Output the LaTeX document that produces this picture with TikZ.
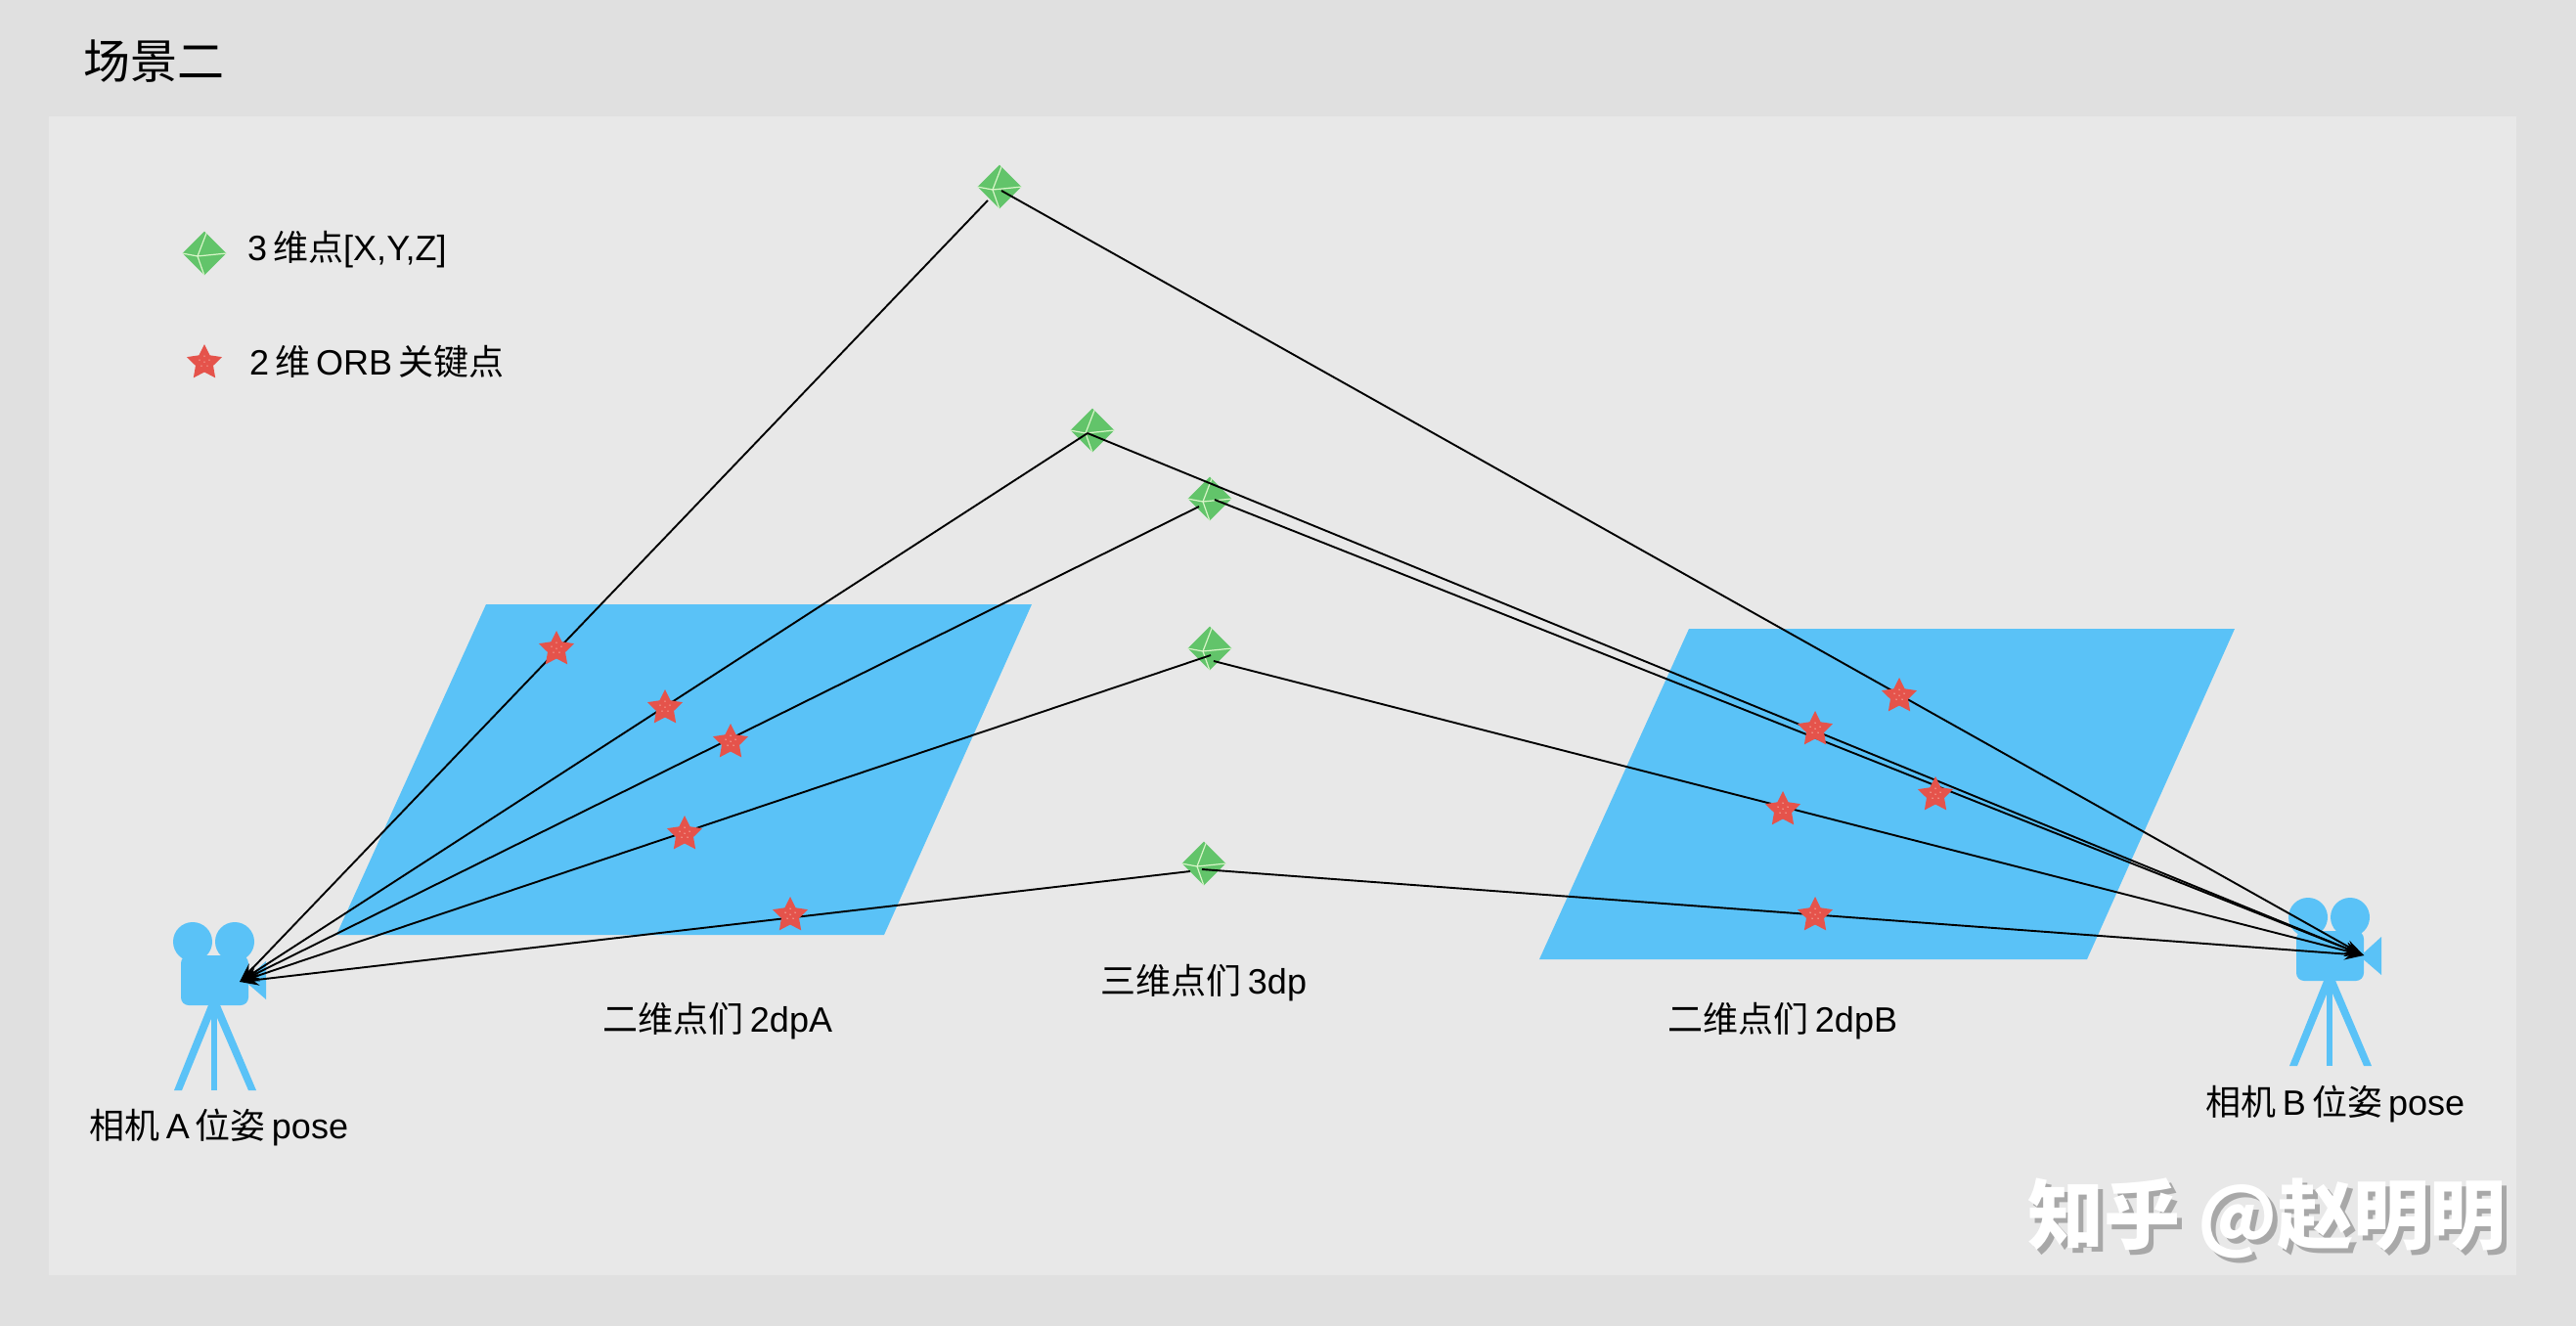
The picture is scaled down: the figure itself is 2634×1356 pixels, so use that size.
\documentclass[tikz,border=0pt]{standalone}
\usepackage{fontspec}
\setmainfont{Liberation Sans}
\newfontfamily\cjk{Noto Sans CJK SC}
\usetikzlibrary{shapes.geometric,arrows.meta}
\definecolor{outerbg}{HTML}{E0E0E0}
\definecolor{panelbg}{HTML}{E8E8E8}
\definecolor{skyblue}{HTML}{5AC2F7}
\definecolor{gemgreen}{HTML}{62C46A}
\definecolor{gemline}{HTML}{D8F5C8}
\definecolor{starred}{HTML}{E5534B}
\definecolor{stardot}{HTML}{F2A79C}
\definecolor{wmshadow}{HTML}{A8A8A8}
\newcommand{\gc}[2]{([xshift=#1pt,yshift=#2pt]path picture bounding box.center)}
\tikzset{
  gem/.style={diamond,fill=gemgreen,inner sep=0pt,minimum width=45pt,minimum height=45pt,
    path picture={
      \draw[gemline,line width=1.2pt]
        \gc{-23}{0} -- \gc{-7}{-3} -- \gc{23}{0}
        \gc{3}{23} -- \gc{-7}{-3} -- \gc{0}{-23};
    }},
  keypt/.style={star,star points=5,star point ratio=2.0,fill=starred,inner sep=0pt,minimum size=38pt,
    path picture={
      \fill[stardot] \gc{0}{5} circle (0.8pt) \gc{-5}{1} circle (0.8pt) \gc{5}{1} circle (0.8pt)
        \gc{-3}{-5} circle (0.8pt) \gc{3}{-5} circle (0.8pt) \gc{0}{-1} circle (0.8pt);
    }},
  ray/.style={black,line width=1.9pt,-{Stealth[length=20pt,width=12pt]}},
  plane/.style={fill=skyblue},
  lbl/.style={font=\fontsize{36pt}{40pt}\selectfont,inner sep=0pt,text=black},
  campic/.pic={
    \fill[skyblue] (-22,-40) circle (20) (21,-40) circle (20);
    \fill[skyblue,rounded corners=8pt] (-34,-26) rectangle (35,25);
    \fill[skyblue] (31,0) -- (53,-20) -- (53,19) -- cycle;
    \fill[skyblue] (-3,20) -- (3,20) -- (3,112) -- (-3,112) -- cycle;
    \fill[skyblue] (-4,20) -- (3,24) -- (-33,112) -- (-41,112) -- cycle;
    \fill[skyblue] (4,20) -- (-3,24) -- (35,112) -- (43,112) -- cycle;
  }
}
\begin{document}
\begin{tikzpicture}[x=1pt,y=-1pt]
\useasboundingbox (0,0) rectangle (2634,1356);
\fill[outerbg] (0,0) rectangle (2634,1356);
\fill[panelbg] (50,119) rectangle (2573,1304);

\node[lbl,font=\fontsize{48pt}{52pt}\selectfont\cjk,anchor=west] (title) at (85,63) {场景二};

% image planes
\fill[plane] (497,618) -- (1055,618) -- (904,956) -- (344,956) -- cycle;
\fill[plane] (1727,643) -- (2285,643) -- (2134,981) -- (1574,981) -- cycle;

% cameras
\pic at (219,1003) {campic};
\pic at (2382,978) {campic};
\coordinate (tipA) at (245,1004);
\coordinate (tipB) at (2417,977);

% 3D points
\node[gem] (g1) at (1022,191) {};
\node[gem] (g2) at (1117,440) {};
\node[gem] (g3) at (1237,510) {};
\node[gem] (g4) at (1237,663) {};
\node[gem] (g5) at (1231,883) {};
\node[gem] (gl) at (209,259) {};

% ray attachment points
\coordinate (a1l) at (1010,205);
\coordinate (a1r) at (1024,195);
\coordinate (a2) at (1112,443);
\coordinate (a3l) at (1226,518);
\coordinate (a3r) at (1242,511);
\coordinate (a4l) at (1238,670);
\coordinate (a4r) at (1241,676);
\coordinate (a5l) at (1217,891);
\coordinate (a5r) at (1229,889);

\draw[ray] (a1l) -- (tipA);
\draw[ray] (a2) -- (tipA);
\draw[ray] (a3l) -- (tipA);
\draw[ray] (a4l) -- (tipA);
\draw[ray] (a5l) -- (tipA);
\draw[ray] (a1r) -- (tipB);
\draw[ray] (a2) -- (tipB);
\draw[ray] (a3r) -- (tipB);
\draw[ray] (a4r) -- (tipB);
\draw[ray] (a5r) -- (tipB);

% 2D key points
\node[keypt] (s1) at (569,664) {};
\node[keypt] (s2) at (680,724) {};
\node[keypt] (s3) at (747,759) {};
\node[keypt] (s4) at (700,853) {};
\node[keypt] (s5) at (808,936) {};
\node[keypt] (s6) at (1942,712) {};
\node[keypt] (s7) at (1856,746) {};
\node[keypt] (s8) at (1979,813) {};
\node[keypt] (s9) at (1823,828) {};
\node[keypt] (s10) at (1856,936) {};
\node[keypt] (sl) at (209,371) {};

% labels
\node[lbl,anchor=west] (t1) at (253,255) {3\,{\cjk 维点}[X,Y,Z]};
\node[lbl,anchor=west] (t2) at (255,370) {2\,{\cjk 维}\,ORB\,{\cjk 关键点}};
\node[lbl] (t3) at (734,1044) {{\cjk 二维点们}\,2dpA};
\node[lbl] (t4) at (1231,1005) {{\cjk 三维点们}\,3dp};
\node[lbl] (t5) at (1823,1044) {{\cjk 二维点们}\,2dpB};
\node[lbl] (t6) at (224,1153) {{\cjk 相机}\,A\,{\cjk 位姿}\,pose};
\node[lbl] (t7) at (2388,1129) {{\cjk 相机}\,B\,{\cjk 位姿}\,pose};

% watermark
\node[lbl,anchor=west,text=wmshadow,font=\fontsize{78pt}{84pt}\selectfont\cjk\bfseries] (w2) at (2078,1251) {知乎 @赵明明};
\node[lbl,anchor=west,text=white,font=\fontsize{78pt}{84pt}\selectfont\cjk\bfseries] (w1) at (2073,1246) {知乎 @赵明明};
\end{tikzpicture}
\end{document}
